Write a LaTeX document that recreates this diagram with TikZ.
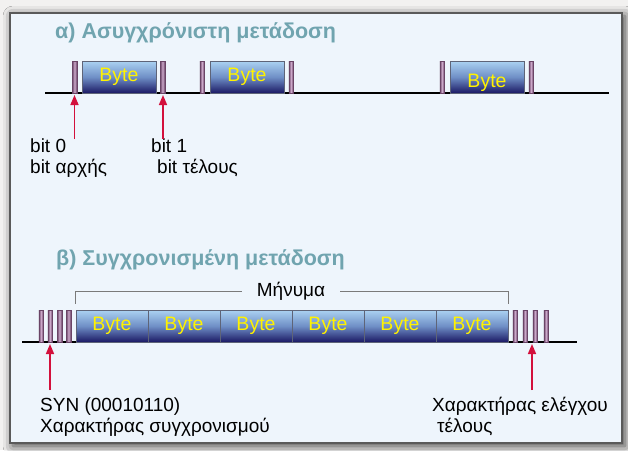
\documentclass[tikz,border=0pt]{standalone}
\usepackage{fontspec}
\setmainfont{Liberation Sans}
\usetikzlibrary{arrows.meta,shadows.blur}

\definecolor{outerbg}{HTML}{F2F1F0}
\definecolor{panelbg}{HTML}{EEF5FC}
\definecolor{panelrule}{HTML}{5A5A5A}
\definecolor{titlecol}{HTML}{70A4AF}
\definecolor{arrowred}{HTML}{D3103C}
\definecolor{bytetop}{HTML}{ABD2F2}
\definecolor{bytemid}{HTML}{6F8FC6}
\definecolor{bytebot}{HTML}{1B1965}
\definecolor{byteedge}{HTML}{5E6478}
\definecolor{bitedge}{HTML}{6A4466}
\definecolor{bitmid}{HTML}{CDA9CB}
\definecolor{bytetext}{HTML}{FFF200}
\definecolor{bracketcol}{HTML}{7A7A7A}

\tikzset{
  x=1pt, y=-1pt,
  panel/.style={draw=panelrule, line width=1.4pt, fill=panelbg,
    blur shadow={shadow xshift=3pt, shadow yshift=-3pt,
      shadow blur radius=10pt, shadow opacity=75}},
  heading/.style={anchor=base west, inner sep=0pt, text=titlecol,
    font=\fontsize{21.5}{25}\selectfont\bfseries},
  bytebox/.style={draw=byteedge, line width=0.8pt, inner sep=0pt,
    minimum width=74pt, minimum height=32pt, text=bytetext,
    top color=bytetop, bottom color=bytebot, middle color=bytemid,
    font=\fontsize{19.5}{21}\selectfont},
  msgbox/.style={bytebox, minimum width=72pt},
  bitbar/.style={draw=bitedge, line width=0.5pt, inner sep=0pt,
    minimum width=4.5pt, minimum height=32pt,
    left color=bitedge, right color=bitedge, middle color=bitmid},
  baseline/.style={line width=1.6pt, black},
  pointer/.style={arrowred, line width=1.6pt,
    -{Triangle[length=10pt, width=8pt]}},
  caption/.style={anchor=base west, inner sep=0pt, align=left,
    font=\fontsize{19}{21}\selectfont},
  bracket/.style={bracketcol, line width=0.8pt},
}

\begin{document}
\begin{tikzpicture}
\useasboundingbox (0,0) rectangle (628,450);
\fill[outerbg] (0,0) rectangle (628,450);
\path[panel] (10,13) rectangle (622,443);

% ---------- a) asynchronous transmission ----------
\node[heading] (ta) at (55,38) {α) Ασυγχρόνιστη μετάδοση};

\coordinate (la) at (45,93);
\coordinate (ra) at (609,93);
\draw[baseline] (la) -- (ra);

\node[bitbar]  (a1s) at (74.5,77)  {};
\node[bytebox] (a1)  at (119,77)   {Byte};
\node[bitbar]  (a1e) at (162.5,77) {};

\node[bitbar]  (a2s) at (202,77)   {};
\node[bytebox] (a2)  at (247,77)   {Byte};
\node[bitbar]  (a2e) at (291,77)   {};

\node[bitbar]  (a3s) at (442,77)   {};
\node[bytebox] (a3)  at (487,77)   {\raisebox{-6pt}[\height][\depth]{Byte}};
\node[bitbar]  (a3e) at (531,77)   {};

% two-line captions: the base anchor sits on the last line
\node[caption] (c0) at (30,173)  {bit 0\\bit αρχής};
\node[caption] (c1) at (151,173) {bit 1\\\hspace*{6pt}bit τέλους};

\coordinate (pa0) at (74.5,139);
\coordinate (pa1) at (163,139);
\coordinate (ta0) at (74.5,95);
\coordinate (ta1) at (163,95);
\draw[pointer] (pa0) -- (ta0);
\draw[pointer] (pa1) -- (ta1);

% ---------- b) synchronous transmission ----------
\node[heading] (tb) at (56,265) {β) Συγχρονισμένη μετάδοση};

\coordinate (lb) at (22,342);
\coordinate (rb) at (577,342);
\draw[baseline] (lb) -- (rb);

\foreach \i/\x in {1/41,2/50,3/59.5,4/68.5}
  \node[bitbar] (sy\i) at (\x,326) {};

\foreach \i in {1,...,6}
  \node[msgbox] (m\i) at ({112+72*(\i-1)},326) {Byte};

\foreach \i/\x in {1/515,2/525,3/535,4/546}
  \node[bitbar] (ck\i) at (\x,326) {};

% bracket over the message
\node[inner sep=0pt, font=\fontsize{19}{21}\selectfont] (msg) at (291,291) {Μήνυμα};
\draw[bracket] ([yshift=6pt]m1.north west) |- ([xshift=-15pt]msg.west);
\draw[bracket] ([xshift=15pt]msg.east) -| ([yshift=6pt]m6.north east);

\node[caption] (c2) at (40,432) {SYN (00010110)\\Χαρακτήρας συγχρονισμού};
\node[caption] (c3) at (432,432) {Χαρακτήρας ελέγχου\\\hspace*{5pt}τέλους};

\coordinate (pb0) at (50,390);
\coordinate (pb1) at (532,390);
\coordinate (tb0) at (50,344);
\coordinate (tb1) at (532,344);
\draw[pointer] (pb0) -- (tb0);
\draw[pointer] (pb1) -- (tb1);
\end{tikzpicture}
\end{document}
